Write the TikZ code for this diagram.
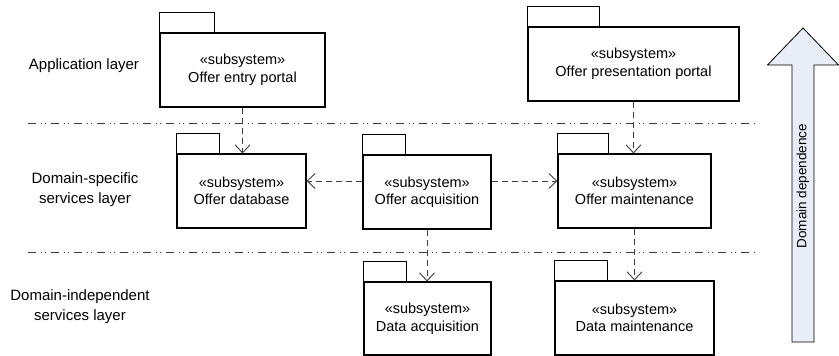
\documentclass[tikz,border=0pt]{standalone}
\usepackage{fontspec}
\setmainfont{Liberation Sans}
\usetikzlibrary{arrows.meta}
\definecolor{arrowfill}{RGB}{232,237,247}
\definecolor{linegray}{RGB}{60,60,60}
\tikzset{
  pkg/.style={draw=black, line width=1.1pt, inner sep=0pt, align=center,
    font=\fontsize{14.5}{17.5}\selectfont},
  pkgtab/.style={draw=black, line width=1.1pt},
  dep/.style={draw=linegray, line width=0.9pt, dash pattern=on 6pt off 4pt,
    -{Straight Barb[length=8pt,width=15pt,line width=0.9pt]}},
  layersep/.style={draw=linegray, line width=0.9pt,
    dash pattern=on 8pt off 5pt on 1pt off 3pt on 1pt off 5pt},
  layerlabel/.style={align=center, font=\fontsize{15}{20}\selectfont},
}
% package symbol: name, left, top, right, bottom, tab width, text
\newcommand{\pkgbox}[7]{%
  \node[pkg, minimum width={(#4-#2)*1pt}, minimum height={(#5-#3)*1pt}]
    (#1) at ({(#2+#4)/2},{(#3+#5)/2}) {\guillemotleft subsystem\guillemotright\\#7};
  \draw[pkgtab] (#1.north west) rectangle ++(#6,-20);
}
\begin{document}
\begin{tikzpicture}[x=1pt,y=-1pt]
\useasboundingbox (0,0) rectangle (839,356);

% layer separators
\coordinate (sepA1) at (28,123);
\coordinate (sepA2) at (755,123);
\coordinate (sepB1) at (28,252);
\coordinate (sepB2) at (755,252);
\draw[layersep] (sepA1) -- (sepA2);
\draw[layersep] (sepB1) -- (sepB2);

% layer labels
\node[layerlabel] (lapp) at (84,66) {Application layer};
\node[layerlabel] (lspec) at (85,190) {Domain-specific\\services layer};
\node[layerlabel] (lindep) at (80,307) {Domain-independent\\services layer};

% subsystems
\pkgbox{entry}{160}{33}{325}{107}{55}{Offer entry portal}
\pkgbox{pres}{528}{27}{739}{101}{72}{Offer presentation portal}
\pkgbox{db}{177}{154}{306}{228}{43}{Offer database}
\pkgbox{acq}{363}{155}{491}{229}{43}{Offer acquisition}
\pkgbox{maint}{558}{154}{711}{228}{51}{Offer maintenance}
\pkgbox{dacq}{364}{282}{491}{355}{43}{Data acquisition}
\pkgbox{dmaint}{555}{281}{714}{355}{53}{Data maintenance}

% dependencies
\draw[dep] (entry.south) -- (entry.south |- db.north);
\draw[dep] (pres.south) -- (pres.south |- maint.north);
\draw[dep] ([yshift=11pt]acq.west) -- ([yshift=11pt]acq.west -| db.east);
\draw[dep] ([yshift=11pt]acq.east) -- ([yshift=11pt]acq.east -| maint.west);
\draw[dep] (acq.south) -- (acq.south |- dacq.north);
\draw[dep] (maint.south) -- (maint.south |- dmaint.north);

% domain dependence arrow
\draw[fill=arrowfill, draw=black, line width=0.8pt, line join=miter]
  (792,342) -- (792,65) -- (767.5,65) -- (803,28) -- (838.5,65)
  -- (814,65) -- (814,342) -- cycle;
\node[rotate=90, font=\fontsize{13.5}{16}\selectfont] (ddep) at (803,186)
  {Domain dependence};
\end{tikzpicture}
\end{document}
